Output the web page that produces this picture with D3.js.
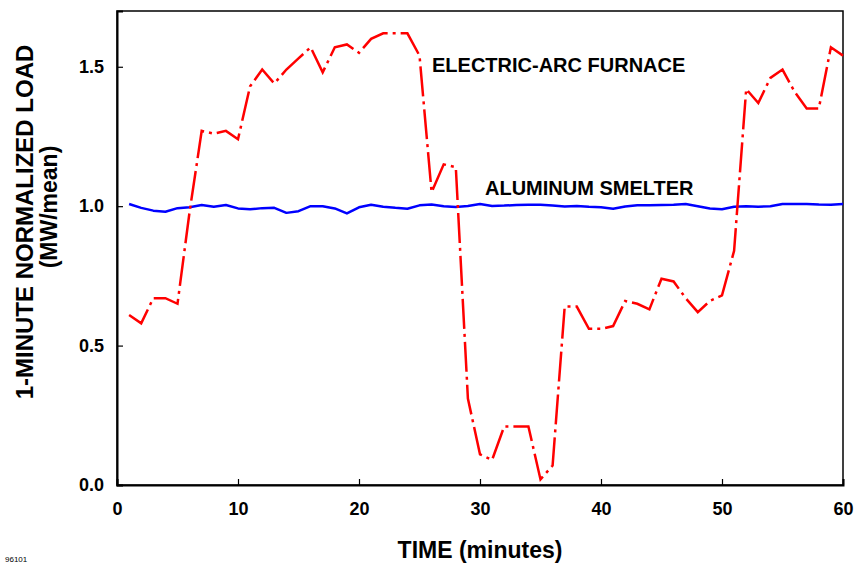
<!DOCTYPE html>
<html>
<head>
<meta charset="utf-8">
<script src="https://cdn.jsdelivr.net/npm/d3@7"></script>
<style>
  body { margin: 0; background: #fff; }
  text { font-family: "Liberation Sans", Arial, sans-serif; font-weight: bold; fill: #000; }
</style>
</head>
<body>
<div id="chart"></div>
<script>
// minutes 1..60
var minutes = d3.range(1, 61);

var furnace = [
  0.61, 0.58, 0.67, 0.67, 0.65, 0.98, 1.27, 1.26, 1.27, 1.24,
  1.43, 1.49, 1.44, 1.49, 1.53, 1.57, 1.48, 1.57, 1.58, 1.55,
  1.60, 1.62, 1.62, 1.62, 1.54, 1.05, 1.15, 1.14, 0.31, 0.11,
  0.09, 0.21, 0.21, 0.21, 0.02, 0.07, 0.64, 0.64, 0.56, 0.56,
  0.57, 0.66, 0.65, 0.63, 0.74, 0.73, 0.67, 0.62, 0.66, 0.68,
  0.84, 1.42, 1.37, 1.46, 1.49, 1.41, 1.35, 1.35, 1.57, 1.54
];

var smelter = [
  1.008, 0.994, 0.984, 0.980, 0.993, 0.996, 1.004, 0.998, 1.004, 0.992,
  0.989, 0.993, 0.994, 0.976, 0.982, 1.000, 1.000, 0.992, 0.974, 0.996,
  1.005, 0.998, 0.994, 0.991, 1.003, 1.006, 1.000, 0.997, 1.001, 1.008,
  1.001, 1.002, 1.004, 1.005, 1.005, 1.002, 0.999, 1.001, 0.998, 0.996,
  0.991, 0.999, 1.003, 1.003, 1.004, 1.005, 1.008, 1.000, 0.992, 0.989,
  0.998, 1.000, 0.998, 1.000, 1.008, 1.008, 1.008, 1.006, 1.005, 1.008
];

var xTicks = [0, 10, 20, 30, 40, 50, 60];
var yTicks = [0, 0.5, 1.0, 1.5];

var width = 857, height = 563;
var margin = {top: 11, right: 14, bottom: 78, left: 117};
var plotW = width - margin.left - margin.right,
    plotH = height - margin.top - margin.bottom;

var svg = d3.select("#chart")
  .append("svg")
    .attr("width", width)
    .attr("height", height);

var g = svg.append("g")
    .attr("transform", "translate(" + margin.left + "," + margin.top + ")");

var x = d3.scaleLinear().domain([0, 60]).range([0, plotW]);
var y = d3.scaleLinear().domain([0, 1.7]).range([plotH, 0]);

// frame
g.append("rect")
  .attr("width", plotW)
  .attr("height", plotH)
  .attr("fill", "none")
  .attr("stroke", "#000")
  .attr("stroke-width", 1.5);

// axes with inward ticks
var xAxis = d3.axisBottom(x).tickValues(xTicks).tickSize(-6).tickPadding(17)
  .tickFormat(d3.format("d"));
var yAxis = d3.axisLeft(y).tickValues(yTicks).tickSize(-6).tickPadding(13)
  .tickFormat(d3.format(".1f"));

var gx = g.append("g")
  .attr("transform", "translate(0," + plotH + ")")
  .call(xAxis);
var gy = g.append("g").call(yAxis);

[gx, gy].forEach(function(a) {
  a.select(".domain").attr("stroke", "#000").attr("stroke-width", 2);
  a.selectAll(".tick line").attr("stroke", "#000").attr("stroke-width", 1.2);
  a.selectAll(".tick text")
    .attr("fill", "#000")
    .style("font-size", "18px")
    .style("font-family", "'Liberation Sans', Arial, sans-serif")
    .style("font-weight", "bold");
});

var line = function(vals) {
  return d3.line()
    .x(function(d, i) { return x(minutes[i]); })
    .y(function(d) { return y(d); })(vals);
};

g.append("path")
  .attr("d", line(smelter))
  .attr("fill", "none")
  .attr("stroke", "#0000ff")
  .attr("stroke-width", 2.5)
  .attr("stroke-linejoin", "round");

g.append("path")
  .attr("d", line(furnace))
  .attr("fill", "none")
  .attr("stroke", "#ff0000")
  .attr("stroke-width", 2.5)
  .attr("stroke-dasharray", "30,5,3,5");

// series labels
g.append("text")
  .attr("x", 432 - margin.left)
  .attr("y", 72 - margin.top)
  .style("font-size", "20px")
  .text("ELECTRIC-ARC FURNACE");

g.append("text")
  .attr("x", 485 - margin.left)
  .attr("y", 195 - margin.top)
  .style("font-size", "20px")
  .text("ALUMINUM SMELTER");

// axis titles
svg.append("text")
  .attr("x", margin.left + x(30))
  .attr("y", 558)
  .attr("text-anchor", "middle")
  .style("font-size", "23px")
  .text("TIME (minutes)");

svg.append("text")
  .attr("transform", "translate(33,222) rotate(-90)")
  .attr("text-anchor", "middle")
  .style("font-size", "24px")
  .text("1-MINUTE NORMALIZED LOAD");

svg.append("text")
  .attr("transform", "translate(57,207) rotate(-90)")
  .attr("text-anchor", "middle")
  .style("font-size", "23px")
  .text("(MW/mean)");

svg.append("text")
  .attr("x", 5)
  .attr("y", 562)
  .style("font-size", "8px")
  .style("font-weight", "normal")
  .text("96101");
</script>
</body>
</html>
